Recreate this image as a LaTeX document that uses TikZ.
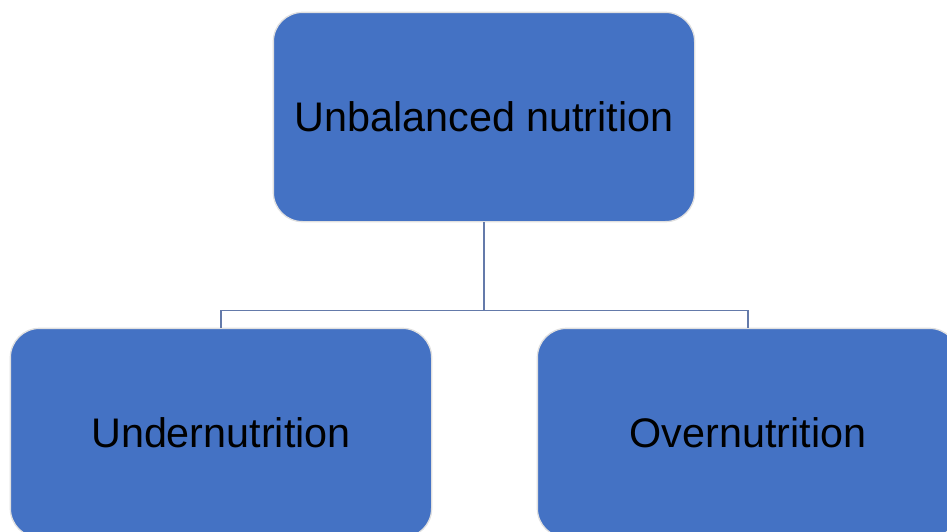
\documentclass[tikz,border=0pt]{standalone}
\usepackage{fontspec}
\setmainfont{Liberation Sans}
\usetikzlibrary{positioning}

\definecolor{boxblue}{RGB}{68,114,196}
\definecolor{linkgray}{RGB}{100,122,170}

\begin{document}
\begin{tikzpicture}[
    x=0.75pt, y=-0.75pt,
    every node/.style={font=\fontsize{31}{37}\selectfont},
    catbox/.style={
        rectangle,
        rounded corners=22pt,
        draw=white!88!black,
        line width=1pt,
        fill=boxblue,
        text=black,
        minimum width=316pt,
        minimum height=157pt,
        inner sep=0pt,
        align=center
    },
    link/.style={
        draw=linkgray,
        line width=1.2pt
    }
]
\useasboundingbox (0,0) rectangle (947,532);
\clip (0,0) rectangle (947,532);

\node[catbox] (unbal) at (484,117) {Unbalanced nutrition};
\node[catbox] (under) at (221,433) {Undernutrition};
\node[catbox] (over) at (748,433) {Overnutrition};

\coordinate (split) at ([yshift=-66pt]unbal.south);

\draw[link] (unbal.south) -- (split) -| (under.north);
\draw[link] (split) -| (over.north);

\end{tikzpicture}
\end{document}
